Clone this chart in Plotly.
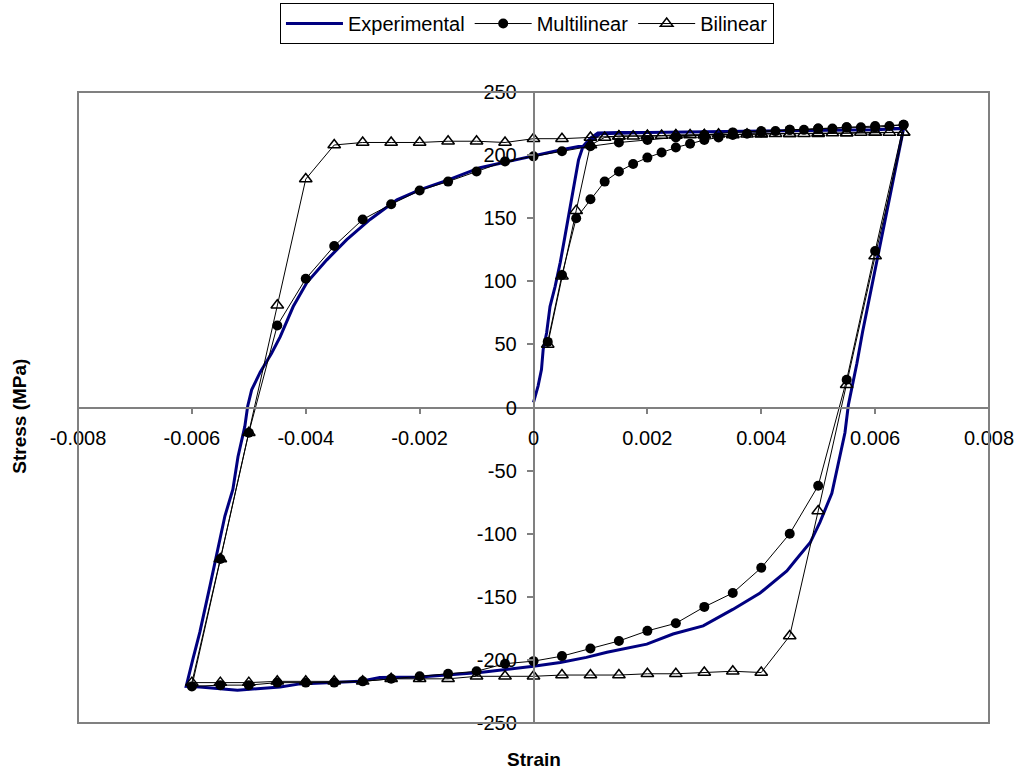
import plotly.graph_objects as go

# ---------------- data ----------------
exp_strain = [0.0, 0.00008, 0.00014, 0.00017, 0.00023, 0.00029, 0.00038, 0.00047, 0.00055, 0.00064,
              0.0007, 0.00079, 0.00087, 0.001, 0.00113, 0.0015, 0.002, 0.003, 0.004, 0.005, 0.006, 0.0065,
              0.0064, 0.0062, 0.00605, 0.0059, 0.00578, 0.00568, 0.0056, 0.00553, 0.00547, 0.00535, 0.00524,
              0.00503, 0.00486, 0.00462, 0.00445, 0.00398, 0.0035, 0.00298, 0.00245, 0.00199, 0.00129,
              0.00093, 0.00047, 0.0, -0.00094, -0.002, -0.0027, -0.00305, -0.0041, -0.00445, -0.0052,
              -0.00586, -0.0061,
              -0.00598, -0.00586, -0.00568, -0.00554, -0.00542, -0.00528, -0.00519, -0.00507, -0.00502,
              -0.00495, -0.0048, -0.0046, -0.00445, -0.00422, -0.00398, -0.00363, -0.00328, -0.00287,
              -0.0024, -0.002, -0.00152, -0.00094, -0.00035, 0.00023, 0.00047, 0.00093, 0.00117, 0.002,
              0.003, 0.004, 0.005, 0.006, 0.0065]
exp_stress = [4, 17, 30, 46, 59, 80, 96, 115, 135, 159,
              175, 196, 207, 213.5, 217.5, 218, 218, 218.5, 219, 219.5, 220, 221,
              199, 154, 120, 87, 60, 35, 17, 2, -20, -46, -68,
              -91, -107, -120, -129.5, -147, -160, -173, -179.5, -187.5, -194,
              -198, -202, -205, -210, -213.5, -214, -217, -219, -221.5, -224,
              -221.5, -221,
              -199, -178, -141, -112, -86, -65, -39, -15, 1,
              14, 28, 43, 56, 80, 99, 117, 133, 149,
              164.5, 172.5, 180, 190, 196, 201.5, 204, 208, 217, 218,
              218.5, 219, 219.5, 220, 221]

multi_strain = [0.00025, 0.0005, 0.00075, 0.001, 0.00125, 0.0015, 0.00175, 0.002, 0.00225, 0.0025,
                0.00275, 0.003, 0.00325, 0.0035, 0.00375, 0.004, 0.00425, 0.0045, 0.00475, 0.005,
                0.00525, 0.0055, 0.00575, 0.006, 0.00625, 0.0065,
                0.006, 0.0055, 0.005, 0.0045, 0.004, 0.0035, 0.003, 0.0025, 0.002, 0.0015, 0.001,
                0.0005, 0.0, -0.0005, -0.001, -0.0015, -0.002, -0.0025, -0.003, -0.0035, -0.004,
                -0.0045, -0.005, -0.0055, -0.006,
                -0.0055, -0.005, -0.0045, -0.004, -0.0035, -0.003, -0.0025, -0.002, -0.0015, -0.001,
                -0.0005, 0.0, 0.0005, 0.001, 0.0015, 0.002, 0.0025, 0.003, 0.0035, 0.004, 0.0045,
                0.005, 0.0055, 0.006, 0.0065]
multi_stress = [52, 105, 150, 165, 179, 187, 193, 198, 202, 206,
                209, 212, 214, 216, 217, 218, 219, 220, 220, 221,
                221, 222, 222, 222, 223, 224,
                124, 22, -62, -100, -127, -147, -158, -171, -177, -185, -191,
                -197, -201, -203, -209, -211, -213, -215, -217, -218, -218,
                -218, -220, -220, -221,
                -120, -20, 65, 102, 128, 149, 161, 172, 179, 187,
                195, 199, 203, 207, 210, 212, 214, 216, 218, 219, 220,
                221, 222, 223, 224]

bi_strain = [0.00025, 0.0005, 0.00075, 0.001, 0.00125, 0.0015, 0.00175, 0.002, 0.00225, 0.0025,
             0.00275, 0.003, 0.00325, 0.0035, 0.00375, 0.004, 0.00425, 0.0045, 0.00475, 0.005,
             0.00525, 0.0055, 0.00575, 0.006, 0.00625, 0.0065,
             0.006, 0.0055, 0.005, 0.0045, 0.004, 0.0035, 0.003, 0.0025, 0.002, 0.0015, 0.001,
             0.0005, 0.0, -0.0005, -0.001, -0.0015, -0.002, -0.0025, -0.003, -0.0035, -0.004,
             -0.0045, -0.005, -0.0055, -0.006,
             -0.0055, -0.005, -0.0045, -0.004, -0.0035, -0.003, -0.0025, -0.002, -0.0015, -0.001,
             -0.0005, 0.0, 0.0005, 0.001, 0.0015, 0.002, 0.0025, 0.003, 0.0035, 0.004, 0.0045,
             0.005, 0.0055, 0.006, 0.0065]
bi_stress = [50, 104, 156, 208, 214, 215, 215, 215.5, 215.5, 216,
             216, 216, 216.5, 216.5, 216.5, 217, 217, 217, 217, 217.5,
             217.5, 217.5, 218, 218, 218, 218,
             120, 18, -82, -181, -210, -209, -210, -211, -211, -212, -212,
             -212, -213, -213, -213, -215, -215, -215, -217, -217, -217,
             -217, -218, -218, -218,
             -120, -20, 81, 181, 208, 210, 210, 210, 211, 211,
             210, 213, 213, 214, 215, 215, 215.5, 216, 216, 216.5, 217,
             217, 217.5, 218, 218]

x_ticks = [-0.008, -0.006, -0.004, -0.002, 0, 0.002, 0.004, 0.006, 0.008]
x_tick_text = ["-0.008", "-0.006", "-0.004", "-0.002", "0", "0.002", "0.004", "0.006", "0.008"]
y_ticks = [-250, -200, -150, -100, -50, 0, 50, 100, 150, 200, 250]
y_tick_text = ["-250", "-200", "-150", "-100", "-50", "0", "50", "100", "150", "200", "250"]

FONT = "Liberation Sans, Arial, sans-serif"

fig = go.Figure()
fig.add_trace(go.Scatter(x=exp_strain, y=exp_stress, mode="lines", name="Experimental",
                         line=dict(color="#000080", width=3)))
fig.add_trace(go.Scatter(x=multi_strain, y=multi_stress, mode="lines+markers", name="Multilinear",
                         line=dict(color="black", width=1),
                         marker=dict(symbol="circle", size=10, color="black")))
fig.add_trace(go.Scatter(x=bi_strain, y=bi_stress, mode="lines+markers", name="Bilinear",
                         line=dict(color="black", width=1),
                         marker=dict(symbol="triangle-up-open", size=11, color="black",
                                     line=dict(width=1.5, color="black"))))

fig.update_layout(
    width=1022, height=773,
    margin=dict(l=78, r=33, t=92, b=50, autoexpand=False),
    paper_bgcolor="white", plot_bgcolor="white",
    font=dict(family=FONT, size=20, color="black"),
    showlegend=True,
    legend=dict(orientation="h", x=0.2217, xanchor="left", y=1.141, yanchor="top",
                bordercolor="black", borderwidth=1, bgcolor="white",
                font=dict(family=FONT, size=20), itemwidth=57, tracegroupgap=0),
    xaxis=dict(range=[-0.008, 0.008], anchor="free", position=0.5,
               tickvals=x_ticks, ticktext=x_tick_text, showgrid=False, zeroline=False,
               showline=True, linecolor="#808080", linewidth=1.5,
               ticks="outside", ticklen=6, tickcolor="#808080", tickwidth=1.5,
               ticklabelstandoff=7),
    yaxis=dict(range=[-250, 250], anchor="free", position=0.5,
               tickvals=y_ticks, ticktext=y_tick_text, showgrid=False, zeroline=False,
               showline=True, linecolor="#808080", linewidth=1.5,
               ticks="outside", ticklen=6, tickcolor="#808080", tickwidth=1.5,
               ticklabelstandoff=6),
    shapes=[dict(type="rect", xref="paper", yref="paper", x0=0, y0=0, x1=1, y1=1,
                 line=dict(color="#808080", width=2), layer="above")],
    annotations=[
        dict(text="<b>Strain</b>", xref="paper", yref="paper", x=0.5, y=-0.0586,
             yanchor="middle", showarrow=False, font=dict(family=FONT, size=19)),
        dict(text="<b>Stress (MPa)</b>", xref="paper", yref="paper", x=-0.0637, y=0.487,
             xanchor="center", yanchor="middle", textangle=-90, showarrow=False,
             font=dict(family=FONT, size=19)),
    ],
)

fig.write_html("out.html")
